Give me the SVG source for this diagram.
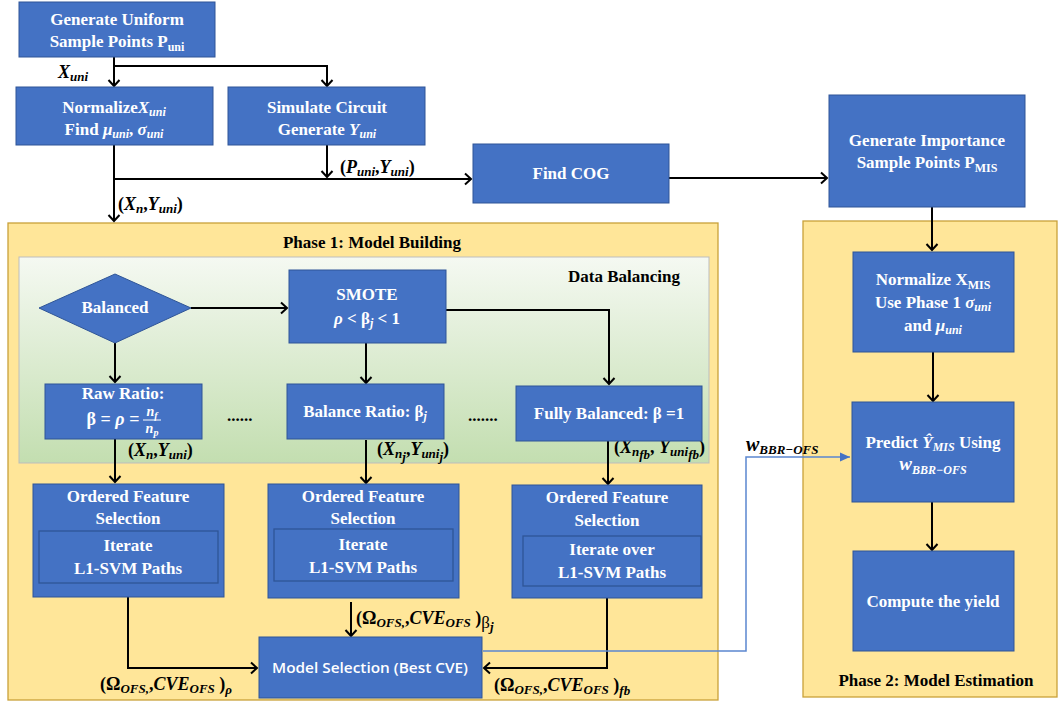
<svg xmlns="http://www.w3.org/2000/svg" width="1059" height="704" viewBox="0 0 1059 704">
  <style>
    .box { fill: #4472C4; stroke: #2F5597; stroke-width: 1; }
    .inner { fill: #4472C4; stroke: #2F5597; stroke-width: 1.3; }
    .phase { fill: #FFE699; stroke: #C9A13A; stroke-width: 1.3; }
    .t { font-family: "Liberation Serif", "Times New Roman", serif; font-weight: bold; font-size: 17px; fill: #fff; text-anchor: middle; }
    .k { font-family: "Liberation Serif", "Times New Roman", serif; font-weight: bold; font-size: 17px; fill: #000; }
    .mi { font-style: italic; }
    .s { font-size: 12px; }
    .lab { font-family: "Liberation Serif", "Times New Roman", serif; font-weight: bold; font-size: 18px; fill: #000; }
    .ls { font-size: 13px; font-style: italic; }
    .sans { font-family: "Open Sans", "Liberation Sans", Arial, sans-serif; font-weight: 600; font-size: 14px; fill: #fff; text-anchor: middle; }
    .conn { fill: none; stroke: #000; stroke-width: 2; marker-end: url(#arr); }
    .blue { fill: none; stroke: #5B87D0; stroke-width: 1.5; marker-end: url(#arrBlue); }
  </style>
  <defs>
    <marker id="arr" markerUnits="userSpaceOnUse" markerWidth="14" markerHeight="14" refX="7" refY="7" orient="auto">
      <path d="M1,1.5 L7,7 L1,12.5" fill="none" stroke="#000" stroke-width="2"/>
    </marker>
    <marker id="arrBlue" markerUnits="userSpaceOnUse" markerWidth="12" markerHeight="12" refX="10" refY="6" orient="auto">
      <path d="M0,1.5 L10,6 L0,10.5 Z" fill="#4472C4"/>
    </marker>
    <linearGradient id="greenFade" x1="0" y1="0" x2="0" y2="1">
      <stop offset="0" stop-color="#F5F9F2"/>
      <stop offset="1" stop-color="#C3DEB0"/>
    </linearGradient>
  </defs>

  <!-- Phase containers -->
  <g id="phase1">
    <rect class="phase" x="8" y="223" width="710" height="477"/>
    <text class="k" x="372" y="248" text-anchor="middle">Phase 1: Model Building</text>
  </g>
  <g id="phase2">
    <rect class="phase" x="803" y="221" width="254" height="476"/>
    <text class="k" x="936" y="686" text-anchor="middle">Phase 2: Model Estimation</text>
  </g>
  <g id="data-balancing">
    <rect x="19" y="257" width="690" height="206" fill="url(#greenFade)" stroke="#BDBDBD" stroke-width="1"/>
    <text class="k" x="624" y="282" text-anchor="middle">Data Balancing</text>
  </g>

  <!-- Connectors -->
  <g id="connectors">
    <path class="conn" d="M114,57 V86"/>
    <path class="conn" d="M114,66 H327 V86"/>
    <path class="conn" d="M114,145 V221"/>
    <path class="conn" d="M327,145 V177"/>
    <path class="conn" d="M114,179 H471"/>
    <path class="conn" d="M669,178 H827"/>
    <path class="conn" d="M932,207 V250"/>
    <path class="conn" d="M191,308 H287"/>
    <path class="conn" d="M115,343 V382"/>
    <path class="conn" d="M446,310 H609 V384"/>
    <path class="conn" d="M366,343 V383"/>
    <path class="conn" d="M115,439 V482"/>
    <path class="conn" d="M366,440 V483"/>
    <path class="conn" d="M608,441 V484"/>
    <path class="conn" d="M128,597 V668 H257"/>
    <path class="conn" d="M351,602 V636"/>
    <path class="conn" d="M607,598 V668 H484"/>
    <path class="conn" d="M933,352 V401"/>
    <path class="conn" d="M932,502 V550"/>
    <path class="blue" d="M483,651 H746 V457 H850"/>
  </g>

  <!-- Connector labels -->
  <g id="labels">
    <text class="lab" x="58" y="78"><tspan class="mi">X</tspan><tspan class="ls" dy="3">uni</tspan></text>
    <text class="lab" x="340" y="173">(<tspan class="mi">P</tspan><tspan class="ls" dy="3">uni</tspan><tspan dy="-3">,</tspan><tspan class="mi">Y</tspan><tspan class="ls" dy="3">uni</tspan><tspan dy="-3">)</tspan></text>
    <text class="lab" x="118" y="210">(<tspan class="mi">X</tspan><tspan class="ls" dy="3">n</tspan><tspan dy="-3">,</tspan><tspan class="mi">Y</tspan><tspan class="ls" dy="3">uni</tspan><tspan dy="-3">)</tspan></text>
    <text class="lab" x="128" y="456">(<tspan class="mi">X</tspan><tspan class="ls" dy="3">n</tspan><tspan dy="-3">,</tspan><tspan class="mi">Y</tspan><tspan class="ls" dy="3">uni</tspan><tspan dy="-3">)</tspan></text>
    <text class="lab" x="377" y="455">(<tspan class="mi">X</tspan><tspan class="ls" dy="3">n</tspan><tspan class="ls" font-size="9" dy="3">j</tspan><tspan dy="-6">,</tspan><tspan class="mi">Y</tspan><tspan class="ls" dy="3">uni</tspan><tspan class="ls" font-size="9" dy="3">j</tspan><tspan dy="-6">)</tspan></text>
    <text class="lab" x="614" y="453">(<tspan class="mi">X</tspan><tspan class="ls" dy="3">n</tspan><tspan class="ls" font-size="9" dy="3">fb</tspan><tspan dy="-6">, </tspan><tspan class="mi">Y</tspan><tspan class="ls" dy="3">uni</tspan><tspan class="ls" font-size="9" dy="3">fb</tspan><tspan dy="-6">)</tspan></text>
    <text class="lab" x="100" y="690">(Ω<tspan class="ls" dy="3">OFS,</tspan><tspan dy="-3">,</tspan><tspan class="mi">CVE</tspan><tspan class="ls" dy="3">OFS</tspan><tspan dy="-3"> )</tspan><tspan class="ls" dy="4">ρ</tspan></text>
    <text class="lab" x="356" y="624">(Ω<tspan class="ls" dy="3">OFS,</tspan><tspan dy="-3">,</tspan><tspan class="mi">CVE</tspan><tspan class="ls" dy="3">OFS</tspan><tspan dy="-3"> )</tspan><tspan font-weight="normal" font-size="17" dy="4">β</tspan><tspan class="ls" font-size="10" dy="3">j</tspan></text>
    <text class="lab" x="494" y="691">(Ω<tspan class="ls" dy="3">OFS,</tspan><tspan dy="-3">,</tspan><tspan class="mi">CVE</tspan><tspan class="ls" dy="3">OFS</tspan><tspan dy="-3"> )</tspan><tspan class="ls" dy="4">fb</tspan></text>
    <text class="lab" x="746" y="451"><tspan class="mi" font-size="20">w</tspan><tspan class="ls" dy="3">BBR−OFS</tspan></text>
    <text class="k" x="227" y="421">......</text>
    <text class="k" x="468" y="421">.......</text>
  </g>

  <!-- Top flow -->
  <g id="gen-uniform">
    <rect class="box" x="19" y="2" width="196" height="55"/>
    <text class="t" x="117" y="25">Generate Uniform</text>
    <text class="t" x="117" y="47">Sample Points P<tspan class="s" dy="4">uni</tspan></text>
  </g>
  <g id="normalize-uni">
    <rect class="box" x="16" y="87" width="197" height="58"/>
    <text class="t" x="114" y="113">Normalize<tspan class="mi">X</tspan><tspan class="s mi" dy="3">uni</tspan></text>
    <text class="t" x="114" y="135">Find <tspan class="mi">μ</tspan><tspan class="s mi" dy="3">uni</tspan><tspan dy="-3">, </tspan><tspan class="mi">σ</tspan><tspan class="s mi" dy="3">uni</tspan></text>
  </g>
  <g id="simulate">
    <rect class="box" x="228" y="87" width="197" height="58"/>
    <text class="t" x="327" y="113">Simulate Circuit</text>
    <text class="t" x="327" y="135">Generate <tspan class="mi">Y</tspan><tspan class="s mi" dy="3">uni</tspan></text>
  </g>
  <g id="find-cog">
    <rect class="box" x="473" y="144" width="196" height="59"/>
    <text class="t" x="571" y="179">Find COG</text>
  </g>
  <g id="gen-importance">
    <rect class="box" x="829" y="95" width="196" height="112"/>
    <text class="t" x="927" y="146">Generate Importance</text>
    <text class="t" x="927" y="168">Sample Points P<tspan class="s" dy="4">MIS</tspan></text>
  </g>

  <!-- Data balancing -->
  <g id="balanced">
    <polygon class="box" points="39,308 115,274 191,308 115,343"/>
    <text class="t" x="115" y="313">Balanced</text>
  </g>
  <g id="smote">
    <rect class="box" x="289" y="270" width="157" height="73"/>
    <text class="t" x="367" y="300">SMOTE</text>
    <text class="t" x="367" y="324"><tspan class="mi">ρ</tspan> &lt; β<tspan class="s mi" dy="3">j</tspan><tspan dy="-3"> &lt; 1</tspan></text>
  </g>
  <g id="raw-ratio">
    <rect class="box" x="45" y="384" width="157" height="55"/>
    <text class="t" x="123" y="399">Raw Ratio:</text>
    <text class="t" x="113" y="425" font-size="18" style="font-size:18px">β = <tspan class="mi">ρ</tspan> =</text>
    <text class="t" x="152" y="416" style="font-size:14px"><tspan class="mi">n</tspan><tspan class="mi" style="font-size:10px" dy="3">f</tspan></text>
    <line x1="143" y1="420" x2="161" y2="420" stroke="#fff" stroke-width="1"/>
    <text class="t" x="152" y="433" style="font-size:14px"><tspan class="mi">n</tspan><tspan class="mi" style="font-size:10px" dy="3">p</tspan></text>
  </g>
  <g id="balance-ratio">
    <rect class="box" x="287" y="384" width="157" height="55"/>
    <text class="t" x="365" y="417">Balance Ratio: β<tspan class="s mi" dy="3">j</tspan></text>
  </g>
  <g id="fully-balanced">
    <rect class="box" x="516" y="386" width="186" height="55"/>
    <text class="t" x="609" y="419">Fully Balanced: β =1</text>
  </g>

  <!-- Ordered feature selection -->
  <g id="ofs-raw">
    <rect class="box" x="33" y="484" width="191" height="113"/>
    <text class="t" x="128" y="502">Ordered Feature</text>
    <text class="t" x="128" y="524">Selection</text>
    <rect class="inner" x="39" y="531" width="179" height="52"/>
    <text class="t" x="128" y="551">Iterate</text>
    <text class="t" x="128" y="574">L1-SVM Paths</text>
  </g>
  <g id="ofs-balance">
    <rect class="box" x="268" y="484" width="191" height="114"/>
    <text class="t" x="363" y="502">Ordered Feature</text>
    <text class="t" x="363" y="524">Selection</text>
    <rect class="inner" x="274" y="529" width="179" height="52"/>
    <text class="t" x="363" y="550">Iterate</text>
    <text class="t" x="363" y="573">L1-SVM Paths</text>
  </g>
  <g id="ofs-full">
    <rect class="box" x="512" y="485" width="190" height="113"/>
    <text class="t" x="607" y="503">Ordered Feature</text>
    <text class="t" x="607" y="526">Selection</text>
    <rect class="inner" x="523" y="536" width="178" height="50"/>
    <text class="t" x="612" y="555">Iterate over</text>
    <text class="t" x="612" y="578">L1-SVM Paths</text>
  </g>
  <g id="model-selection">
    <rect class="box" x="259" y="637" width="223" height="61"/>
    <text class="sans" x="370" y="673" textLength="196" lengthAdjust="spacingAndGlyphs">Model Selection (Best CVE)</text>
  </g>

  <!-- Phase 2 -->
  <g id="normalize-mis">
    <rect class="box" x="853" y="252" width="161" height="100"/>
    <text class="t" x="933" y="285">Normalize X<tspan class="s" dy="4">MIS</tspan></text>
    <text class="t" x="933" y="308">Use Phase 1 <tspan class="mi">σ</tspan><tspan class="s mi" dy="3">uni</tspan></text>
    <text class="t" x="933" y="331">and <tspan class="mi">μ</tspan><tspan class="s mi" dy="3">uni</tspan></text>
  </g>
  <g id="predict">
    <rect class="box" x="852" y="402" width="162" height="100"/>
    <text class="t" x="933" y="448">Predict <tspan class="mi">Ŷ</tspan><tspan class="s mi" dy="3">MIS</tspan><tspan dy="-3"> Using</tspan></text>
    <text class="t" x="933" y="470"><tspan class="mi" font-size="19">w</tspan><tspan class="s mi" dy="4">BBR−OFS</tspan></text>
  </g>
  <g id="compute-yield">
    <rect class="box" x="853" y="551" width="161" height="100"/>
    <text class="t" x="933" y="607">Compute the yield</text>
  </g>
</svg>
